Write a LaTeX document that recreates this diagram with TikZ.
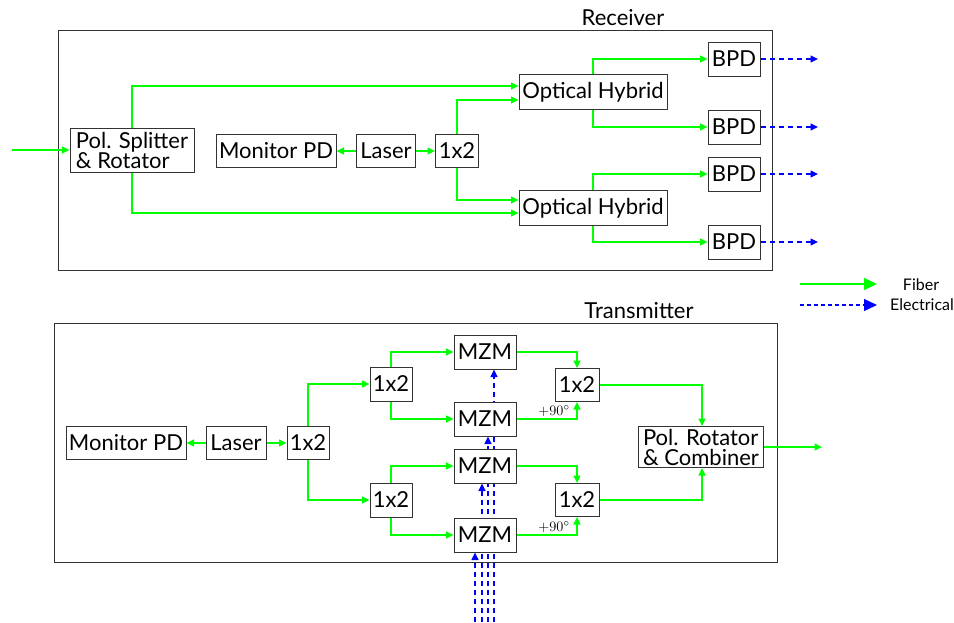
\documentclass[tikz,border=0pt]{standalone}
\usepackage{fontspec}
\setmainfont{Lato}
\usetikzlibrary{arrows.meta,backgrounds}
\begin{document}
\begin{tikzpicture}[x=1pt,y=-1pt,
  box/.style={draw=black!80,line width=1pt,fill=white,inner sep=0pt,
    font=\fontsize{22}{20}\selectfont,align=left},
  frame/.style={draw=black!80,line width=1pt},
  fib/.style={draw={rgb,255:red,0;green,255;blue,0},line width=1.2pt,
    -{Triangle[length=7.5pt,width=7pt]}},
  elec/.style={draw={rgb,255:red,0;green,0;blue,255},line width=1.1pt,
    dash pattern=on 5pt off 4pt,
    -{Triangle[length=7.5pt,width=7pt]}},
  title/.style={font=\fontsize{22}{24}\selectfont},
  leg/.style={font=\fontsize{16}{18}\selectfont},
  phase/.style={font=\fontsize{15}{17}\selectfont\rmfamily,inner sep=0pt}
]
\useasboundingbox (0,0) rectangle (954,622);

% ---------------- Receiver ----------------
\draw[frame] (58,30) rectangle (772,270);
\node[title] (rxlabel) at (623,18) {Receiver};

\node[box,minimum width=124pt,minimum height=44pt] (ps) at (132,150) {Pol. Splitter\\\& Rotator};
\node[box,minimum width=120pt,minimum height=33pt] (rmpd) at (276,151) {Monitor PD};
\node[box,minimum width=59pt,minimum height=33pt] (rlas) at (386,151) {Laser};
\node[box,minimum width=43pt,minimum height=33pt] (rs) at (457,151) {1x2};
\node[box,minimum width=148pt,minimum height=35pt] (oh1) at (593,92) {Optical Hybrid};
\node[box,minimum width=148pt,minimum height=35pt] (oh2) at (593,208) {Optical Hybrid};
\node[box,minimum width=52pt,minimum height=34pt] (b1) at (734,59) {BPD};
\node[box,minimum width=52pt,minimum height=34pt] (b2) at (734,127) {BPD};
\node[box,minimum width=52pt,minimum height=34pt] (b3) at (734,174) {BPD};
\node[box,minimum width=52pt,minimum height=34pt] (b4) at (734,242) {BPD};

\coordinate (rin) at (12,150);
\coordinate (o1) at (818,59);
\coordinate (o2) at (818,127);
\coordinate (o3) at (818,174);
\coordinate (o4) at (818,242);

\draw[fib] (rin) -- (ps.west);
\draw[fib] (ps.north) |- ([yshift=6pt]oh1.west);
\draw[fib] (ps.south) |- ([yshift=-5pt]oh2.west);
\draw[fib] (rlas.west) -- (rmpd.east);
\draw[fib] (rlas.east) -- (rs.west);
\draw[fib] (rs.north) |- ([yshift=-8pt]oh1.west);
\draw[fib] (rs.south) |- ([yshift=8pt]oh2.west);
\draw[fib] (oh1.north) |- (b1.west);
\draw[fib] (oh1.south) |- (b2.west);
\draw[fib] (oh2.north) |- (b3.west);
\draw[fib] (oh2.south) |- (b4.west);
\draw[elec] (b1.east) -- (o1);
\draw[elec] (b2.east) -- (o2);
\draw[elec] (b3.east) -- (o3);
\draw[elec] (b4.east) -- (o4);

% ---------------- Legend ----------------
\coordinate (lf1) at (800,284);
\coordinate (lf2) at (877,284);
\coordinate (le1) at (800,305);
\coordinate (le2) at (877,305);
\draw[fib,-{Triangle[length=13pt,width=12pt]}] (lf1) -- (lf2);
\draw[elec,line width=1.3pt,dash pattern=on 4pt off 3pt,-{Triangle[length=13pt,width=12pt]}] (le1) -- (le2);
\node[leg] (lfib) at (921,285) {Fiber};
\node[leg] (lele) at (922,305) {Electrical};

% ---------------- Transmitter ----------------
\draw[frame] (54,323) rectangle (777,562);
\node[title] (txlabel) at (639,311) {Transmitter};

\node[box,minimum width=120pt,minimum height=33pt] (tmpd) at (126,443) {Monitor PD};
\node[box,minimum width=60pt,minimum height=33pt] (tlas) at (236,443) {Laser};
\node[box,minimum width=42pt,minimum height=33pt] (t0) at (308,443) {1x2};
\node[box,minimum width=42pt,minimum height=34pt] (t1) at (391,384) {1x2};
\node[box,minimum width=42pt,minimum height=34pt] (t2) at (391,500) {1x2};
\node[box,minimum width=62pt,minimum height=34pt] (m1) at (485,352) {MZM};
\node[box,minimum width=62pt,minimum height=34pt] (m2) at (485,419) {MZM};
\node[box,minimum width=62pt,minimum height=34pt] (m3) at (485,466) {MZM};
\node[box,minimum width=62pt,minimum height=34pt] (m4) at (485,535) {MZM};
\node[box,minimum width=44pt,minimum height=33pt] (c1) at (577,385) {1x2};
\node[box,minimum width=44pt,minimum height=33pt] (c2) at (577,500) {1x2};
\node[box,minimum width=125pt,minimum height=41pt] (prc) at (701,447) {Pol. Rotator\\\& Combiner};

\coordinate (tout) at (822,447);
\coordinate (e1) at (494,622);
\coordinate (e2) at (488,622);
\coordinate (e3) at (482,622);
\coordinate (e4) at (475,622);

\draw[fib] (tlas.west) -- (tmpd.east);
\draw[fib] (tlas.east) -- (t0.west);
\draw[fib] (t0.north) |- (t1.west);
\draw[fib] (t0.south) |- (t2.west);
\draw[fib] (t1.north) |- (m1.west);
\draw[fib] (t1.south) |- (m2.west);
\draw[fib] (t2.north) |- (m3.west);
\draw[fib] (t2.south) |- (m4.west);
\draw[fib] (m1.east) -| (c1.north);
\draw[fib] (m2.east) -| (c1.south);
\draw[fib] (m3.east) -| (c2.north);
\draw[fib] (m4.east) -| (c2.south);
\draw[fib] (c1.east) -| ([xshift=1pt]prc.north);
\draw[fib] (c2.east) -| ([xshift=1pt]prc.south);
\draw[fib] (prc.east) -- (tout);

\node[phase] (ph1) at (554,411) {$+90^\circ$};
\node[phase] (ph2) at (554,527) {$+90^\circ$};

% drive signals run behind the modulator boxes
\begin{pgfonlayer}{background}
\draw[elec] (e1) -- (e1 |- m1.south);
\draw[elec] (e2) -- (e2 |- m2.south);
\draw[elec] (e3) -- (e3 |- m3.south);
\draw[elec] (e4) -- (e4 |- m4.south);
\end{pgfonlayer}
\end{tikzpicture}
\end{document}
